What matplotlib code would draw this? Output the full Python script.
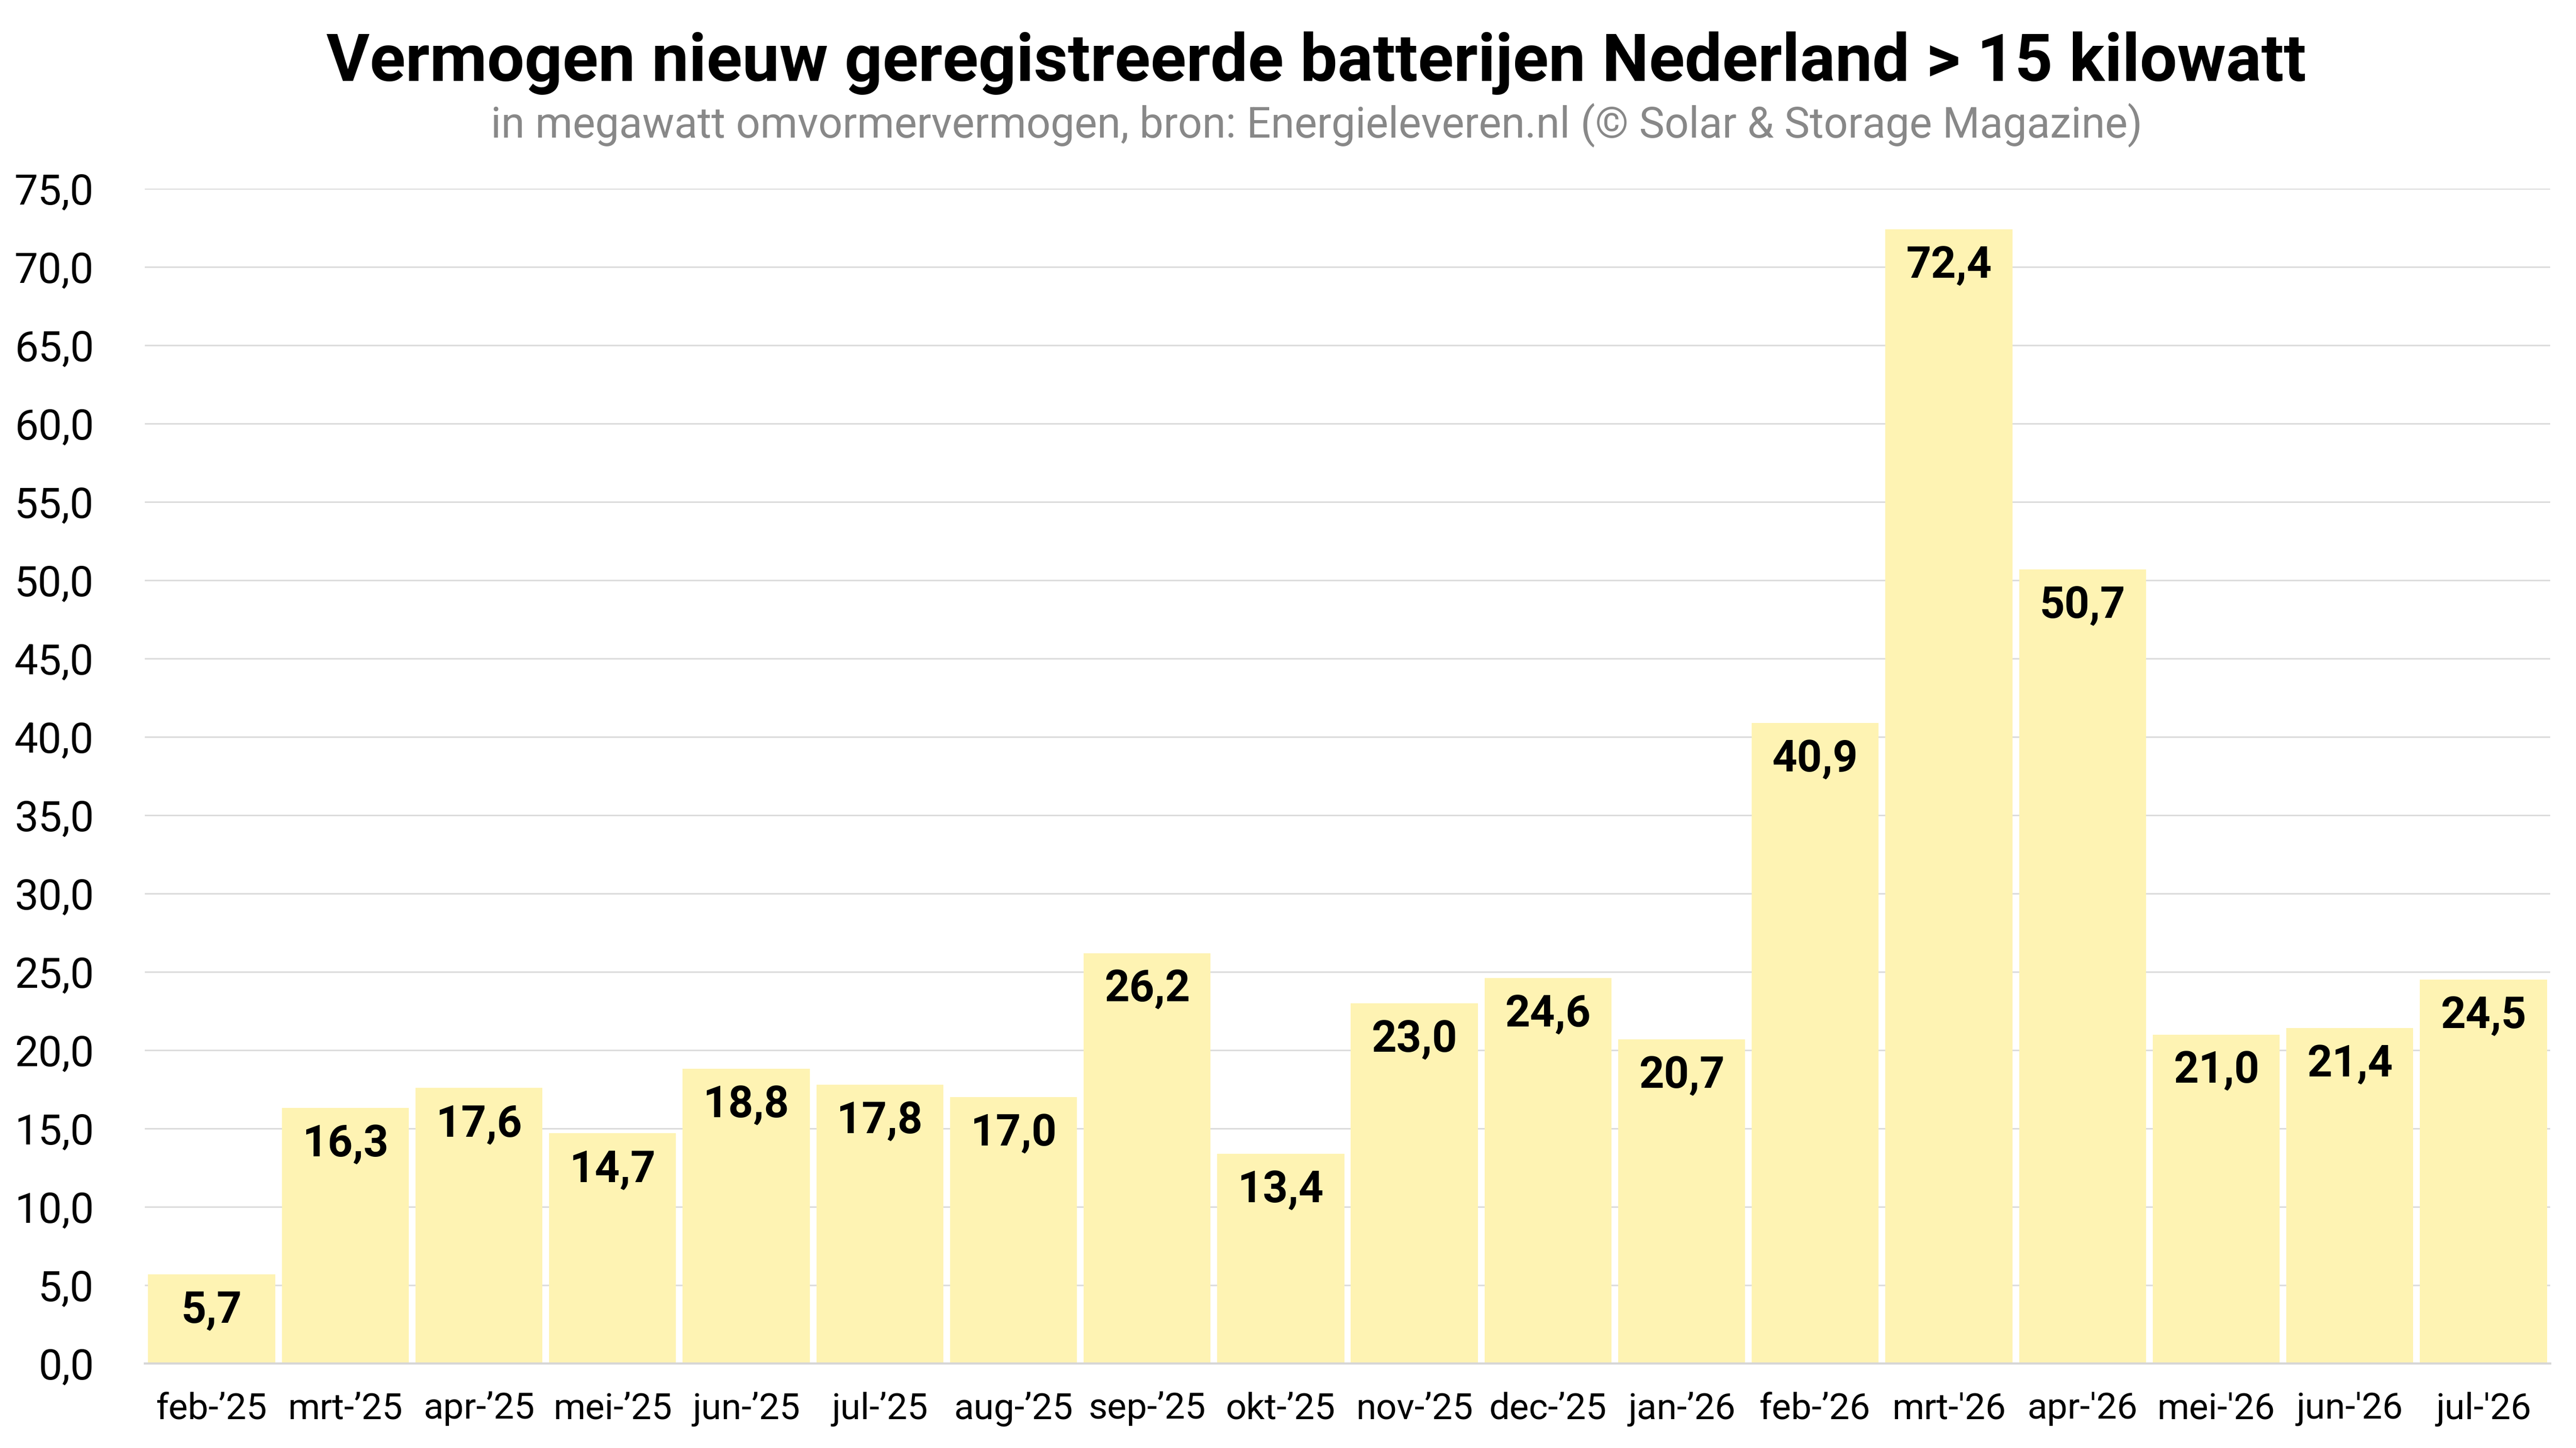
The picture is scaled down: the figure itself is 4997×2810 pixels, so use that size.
import matplotlib
matplotlib.use("Agg")
import matplotlib.pyplot as plt

months = ["feb-’25", "mrt-’25", "apr-’25", "mei-’25", "jun-’25", "jul-’25",
          "aug-’25", "sep-’25", "okt-’25", "nov-’25", "dec-’25", "jan-’26",
          "feb-’26", "mrt-'26", "apr-'26", "mei-'26", "jun-'26", "jul-'26"]
values = [5.7, 16.3, 17.6, 14.7, 18.8, 17.8, 17.0, 26.2, 13.4, 23.0, 24.6, 20.7,
          40.9, 72.4, 50.7, 21.0, 21.4, 24.5]
yticks = [0, 5, 10, 15, 20, 25, 30, 35, 40, 45, 50, 55, 60, 65, 70, 75]

title = "Vermogen nieuw geregistreerde batterijen Nederland > 15 kilowatt"
subtitle = "in megawatt omvormervermogen, bron: Energieleveren.nl (© Solar & Storage Magazine)"

plt.rcParams['font.family'] = ['Roboto', 'DejaVu Sans']

W, H = 4997, 2810
fig = plt.figure(figsize=(W / 100, H / 100), dpi=100)
ax = fig.add_axes([281 / W, (H - 2646) / H, (4947 - 281) / W, (2646 - 366) / H])

x = list(range(len(months)))
bars = ax.bar(x, values, width=0.95, color="#FEF3B3", zorder=2)

ax.set_xlim(-0.5, len(months) - 0.5)
ax.set_ylim(0, 75)
ax.set_yticks(yticks)
ax.set_yticklabels([f"{v:.1f}".replace(".", ",") for v in yticks], fontsize=59)
ax.set_xticks(x)
ax.set_xticklabels(months, fontsize=51)
ax.tick_params(axis='y', length=0, pad=71)
ax.tick_params(axis='x', length=0, pad=39)

ax.grid(axis='y', color="#dcdcdc", linewidth=2.2, zorder=0)
ax.set_axisbelow(True)
for s in ['top', 'right', 'left']:
    ax.spines[s].set_visible(False)
ax.spines['bottom'].set_color("#d6d6d6")
ax.spines['bottom'].set_linewidth(3)
ax.spines['bottom'].set_zorder(3)

for xi, v in zip(x, values):
    ax.annotate(f"{v:.1f}".replace(".", ","), (xi, v), xytext=(0, -51),
                textcoords='offset points', ha='center', va='center',
                fontsize=61, fontweight='bold', color='black', zorder=4)

fig.text(0.511, 1 - 157 / H, title, ha='center', va='baseline',
         fontsize=92.5, fontweight='bold', color='black')
fig.text(0.511, 1 - 267 / H, subtitle, ha='center', va='baseline',
         fontsize=59.5, color='#888888')

fig.savefig("out.png", dpi=100, facecolor='white')
